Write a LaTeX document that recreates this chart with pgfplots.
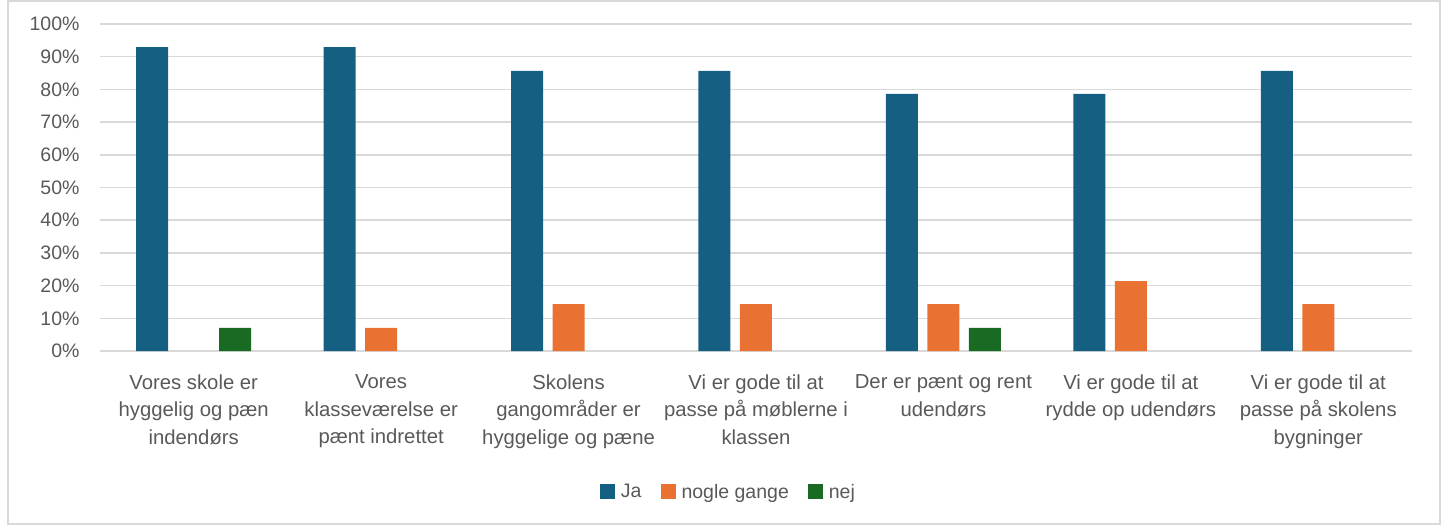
\documentclass[border=0pt]{standalone}
\usepackage{pgfplots}
\pgfplotsset{compat=1.18}
\usepackage{fontspec}
\setmainfont{Liberation Sans}
\definecolor{cJa}{HTML}{156082}
\definecolor{cNo}{HTML}{E97132}
\definecolor{cNej}{HTML}{196B24}
\definecolor{txt}{HTML}{595959}
\definecolor{grid}{HTML}{D9D9D9}
\begin{document}
\begin{tikzpicture}
\path[use as bounding box] (0pt,0pt) rectangle (1443pt,525pt);
\draw[color=grid, line width=1.5pt] (8pt,1pt) rectangle (1440pt,524pt);
\begin{axis}[
  at={(100pt,174pt)}, anchor=south west,
  scale only axis, width=1312pt, height=327pt,
  ybar=9.5pt, bar width=32pt,
  xmin=-0.5, xmax=6.5, ymin=0, ymax=100,
  xtick={0,...,6}, 
  xticklabels={{Vores skole er\\hyggelig og pæn\\indendørs},
    {Vores\\klasseværelse er\\pænt indrettet},
    {Skolens\\gangområder er\\hyggelige og pæne},
    {Vi er gode til at\\passe på møblerne i\\klassen},
    {Der er pænt og rent\\udendørs},
    {Vi er gode til at\\rydde op udendørs},
    {Vi er gode til at\\passe på skolens\\bygninger}},
  xticklabel style={align=center, font=\fontsize{20.3}{27.7}\selectfont, text=txt, yshift=-20pt},
  ytick={0,10,...,100},
  yticklabel={\pgfmathprintnumber{\tick}\%},
  /pgf/number format/assume math mode=true,
  yticklabel style={font=\fontsize{19.5}{24}\selectfont, text=txt, xshift=-17pt},
  major tick length=0pt,
  ymajorgrids, grid style={color=grid, line width=1.5pt},
  axis x line*=bottom, axis y line*=left,
  x axis line style={color=grid, line width=1.5pt, -},
  y axis line style={draw=none},
  legend style={at={(0.479,-0.431)}, anchor=center, draw=none, legend columns=3,
    font=\fontsize{19.5}{24}\selectfont, text=txt,
    /tikz/every odd column/.append style={column sep=4pt},
    /tikz/every even column/.append style={column sep=17pt}},
  legend image code/.code={\fill[#1] (0pt,-7.5pt) rectangle (15pt,7.5pt);},
]
\addplot[fill=cJa, draw=none] coordinates {(0,92.9) (1,92.9) (2,85.7) (3,85.7) (4,78.6) (5,78.6) (6,85.7)};
\addplot[fill=cNo, draw=none] coordinates {(1,7.1) (2,14.3) (3,14.3) (4,14.3) (5,21.4) (6,14.3)};
\addplot[fill=cNej, draw=none] coordinates {(0,7.1) (4,7.1)};
\legend{Ja, nogle gange, nej}
\end{axis}
\end{tikzpicture}
\end{document}
